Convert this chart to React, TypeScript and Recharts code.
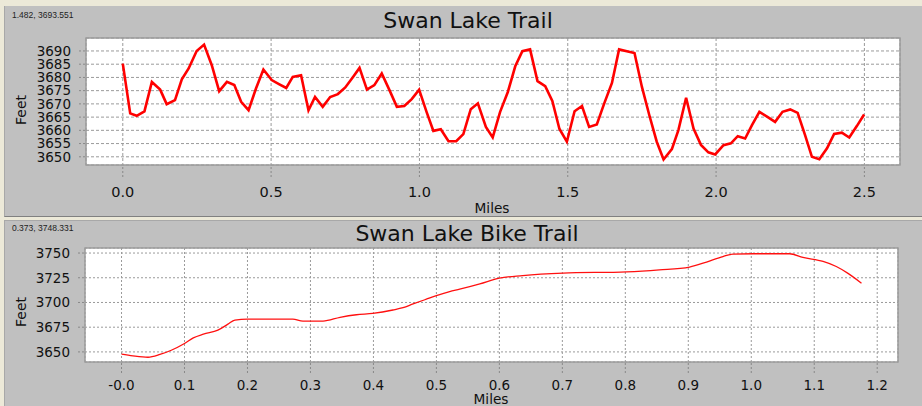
import { LineChart, Line, XAxis, YAxis, CartesianGrid, ReferenceArea } from 'recharts';

// Swan Lake Trail (top panel)
const trailMiles = [
    0, 0.025, 0.047, 0.073, 0.098, 0.126, 0.148, 0.176, 0.199, 0.222, 0.249, 0.274, 0.3, 0.325, 0.351, 0.376, 0.399,
    0.424, 0.449, 0.474, 0.502, 0.528, 0.551, 0.573, 0.601, 0.626, 0.648, 0.674, 0.699, 0.725, 0.75, 0.775, 0.798,
    0.823, 0.848, 0.873, 0.899, 0.924, 0.949, 0.974, 0.999, 1.024, 1.047, 1.072, 1.098, 1.124, 1.148, 1.173, 1.197,
    1.224, 1.247, 1.272, 1.298, 1.323, 1.347, 1.373, 1.398, 1.424, 1.448, 1.472, 1.497, 1.523, 1.548, 1.572, 1.598,
    1.623, 1.649, 1.673, 1.699, 1.725, 1.75, 1.775, 1.8, 1.823, 1.851, 1.873, 1.899, 1.924, 1.949, 1.974, 1.997,
    2.025, 2.05, 2.073, 2.098, 2.121, 2.146, 2.173, 2.199, 2.224, 2.25, 2.275, 2.3, 2.323, 2.348, 2.374, 2.398,
    2.424, 2.449, 2.475, 2.499,
];
const trailFeet = [
    3685.2, 3666.4, 3665.5, 3667.2, 3678.3, 3675.4, 3669.9, 3671.4, 3679.3, 3683.4, 3690, 3692.4, 3684.6, 3674.8,
    3678.3, 3677.1, 3670.8, 3667.6, 3675.8, 3683, 3679, 3677.4, 3676, 3680.2, 3680.8, 3667.6, 3672.6, 3668.9, 3672.6,
    3673.7, 3676.2, 3680, 3683.6, 3675.4, 3677.1, 3681.5, 3675.2, 3668.9, 3669.2, 3671.8, 3675.4, 3667, 3659.8,
    3660.4, 3655.9, 3655.9, 3658.6, 3668, 3670.2, 3661.3, 3657.3, 3667, 3674.5, 3684.2, 3689.9, 3690.6, 3678.6,
    3676.7, 3671.1, 3660.5, 3655.7, 3667.2, 3669.2, 3661.3, 3662.2, 3670.2, 3677.9, 3690.6, 3689.9, 3689.2, 3676.4,
    3665.7, 3655.7, 3649, 3652.9, 3660.1, 3672.3, 3660.7, 3654.5, 3651.7, 3650.9, 3654.4, 3655.1, 3657.8, 3656.9,
    3662, 3667, 3665.1, 3663.2, 3667, 3667.9, 3666.6, 3658.2, 3650, 3649.1, 3653.2, 3658.6, 3659.1, 3657.3, 3661.7,
    3666,
];
const trailXTicks = [0, 0.5, 1, 1.5, 2, 2.5];
const trailXMinor = [-0.1, 0.1, 0.2, 0.3, 0.4, 0.6, 0.7, 0.8, 0.9, 1.1, 1.2, 1.3, 1.4, 1.6, 1.7, 1.8, 1.9, 2.1, 2.2, 2.3, 2.4, 2.6];
const trailYTicks = [3650, 3655, 3660, 3665, 3670, 3675, 3680, 3685, 3690];

// Swan Lake Bike Trail (bottom panel)
const bikeMiles = [
    0, 0.018, 0.042, 0.061, 0.079, 0.1, 0.114, 0.13, 0.153, 0.169, 0.18, 0.2, 0.272, 0.288, 0.32, 0.347, 0.373,
    0.399, 0.431, 0.447, 0.463, 0.484, 0.5, 0.521, 0.537, 0.569, 0.6, 0.637, 0.701, 0.802, 0.854, 0.902, 0.929,
    0.955, 0.971, 1.003, 1.061, 1.082, 1.114, 1.135, 1.153, 1.175,
];
const bikeFeet = [
    3647.7, 3646, 3644.6, 3647.4, 3651.7, 3658.5, 3664.2, 3668, 3672, 3678.1, 3682.2, 3683.2, 3683.2, 3681.2, 3681.2,
    3685, 3687.6, 3689, 3692.4, 3694.7, 3698.5, 3703.3, 3706.9, 3711, 3713.4, 3718.8, 3724.6, 3727.2, 3729.7, 3731,
    3733, 3735.8, 3740.9, 3746.5, 3749, 3749.3, 3749.3, 3745.5, 3741.5, 3736.4, 3729.7, 3719.5,
];
const bikeXTicks = [0, 0.1, 0.2, 0.3, 0.4, 0.5, 0.6, 0.7, 0.8, 0.9, 1.0, 1.1, 1.2];
const bikeXLabels = ['-0.0', '0.1', '0.2', '0.3', '0.4', '0.5', '0.6', '0.7', '0.8', '0.9', '1.0', '1.1', '1.2'];
const bikeYTicks = [3650, 3675, 3700, 3725, 3750];

const trailDomainX: [number, number] = [-0.124, 2.62];
const trailDomainY: [number, number] = [3646.9, 3694.9];
const bikeDomainX: [number, number] = [-0.058, 1.233];
const bikeDomainY: [number, number] = [3639.8, 3755.1];

const range = (from: number, to: number, step: number) => {
    const out: number[] = [];
    for (let v = from; v <= to + 1e-9; v += step) out.push(Math.round(v * 1000) / 1000);
    return out;
};

const font = '"DejaVu Sans", Verdana, sans-serif';
const ink = '#111';
const gridGray = '#9a9a9a';

const trailData = trailMiles.map((m, i) => ({ miles: m, feet: trailFeet[i] }));
const bikeData = bikeMiles.map((m, i) => ({ miles: m, feet: bikeFeet[i] }));

const abs = (style: React.CSSProperties): React.CSSProperties => ({ position: 'absolute', ...style });

const App = () => {
    return (
        <div style={abs({ left: 0, top: 0, width: 922, height: 406, background: '#ece9d8', overflow: 'hidden', fontFamily: font })}>
            {/* panels */}
            <div style={abs({ left: 4, top: 6, width: 918, height: 210, background: '#c0c0c0', borderLeft: '1px solid #a8a8a8', borderBottom: '1px solid #808080' })} />
            <div style={abs({ left: 4, top: 220, width: 918, height: 186, background: '#c0c0c0', borderLeft: '1px solid #a8a8a8', borderTop: '1px solid #a8a8a8' })} />

            {/* top chart */}
            <div style={abs({ left: 0, top: 0 })}>
                <LineChart width={922} height={216} data={trailData} margin={{ top: 38, right: 22, bottom: 11, left: 26 }}>
                    <CartesianGrid stroke={gridGray} strokeDasharray='3 2' fill='#fff' />
                    <ReferenceArea x1={trailDomainX[0]} x2={trailDomainX[1]} y1={trailDomainY[0]} y2={trailDomainY[1]} fill='none' stroke='#9c9c9c' strokeWidth={1.5} fillOpacity={0} />
                    <XAxis
                        dataKey='miles'
                        type='number'
                        domain={trailDomainX}
                        allowDataOverflow
                        ticks={trailXTicks}
                        interval={0}
                        tickFormatter={(v: number) => v.toFixed(1)}
                        height={40}
                        tickSize={12}
                        tickMargin={10}
                        axisLine={false}
                        tickLine={{ stroke: '#888', strokeDasharray: '2 2' }}
                        tick={{ fill: ink, fontSize: 14.5, fontFamily: font }}
                    />
                    <XAxis
                        xAxisId='minor'
                        dataKey='miles'
                        type='number'
                        domain={trailDomainX}
                        allowDataOverflow
                        ticks={trailXMinor}
                        interval={0}
                        mirror
                        height={0}
                        tickSize={9}
                        tick={false}
                        axisLine={false}
                        tickLine={{ stroke: '#aaa', strokeDasharray: '2 2' }}
                    />
                    <YAxis
                        type='number'
                        domain={trailDomainY}
                        allowDataOverflow
                        ticks={trailYTicks}
                        interval={0}
                        width={60}
                        tickSize={7}
                        tickMargin={8}
                        axisLine={false}
                        tickLine={{ stroke: '#888', strokeDasharray: '2 2' }}
                        tick={{ fill: ink, fontSize: 13.5, fontFamily: font }}
                    />
                    <YAxis
                        yAxisId='minor'
                        type='number'
                        domain={trailDomainY}
                        allowDataOverflow
                        ticks={range(3647, 3694, 1)}
                        interval={0}
                        mirror
                        width={0}
                        tickSize={6}
                        tick={false}
                        axisLine={false}
                        tickLine={{ stroke: '#c4c4c4', strokeDasharray: '1 1' }}
                    />
                    <Line type='linear' dataKey='feet' stroke='#ff0000' strokeWidth={2.6} dot={false} isAnimationActive={false} />
                </LineChart>
            </div>

            {/* bottom chart */}
            <div style={abs({ left: 0, top: 220 })}>
                <LineChart width={922} height={186} data={bikeData} margin={{ top: 28, right: 24, bottom: 10, left: 25 }}>
                    <CartesianGrid stroke={gridGray} strokeDasharray='2 2' fill='#fff' />
                    <ReferenceArea x1={bikeDomainX[0]} x2={bikeDomainX[1]} y1={bikeDomainY[0]} y2={bikeDomainY[1]} fill='none' stroke='#9c9c9c' strokeWidth={1.5} fillOpacity={0} />
                    <XAxis
                        dataKey='miles'
                        type='number'
                        domain={bikeDomainX}
                        allowDataOverflow
                        ticks={bikeXTicks}
                        interval={0}
                        tickFormatter={(_v: number, i: number) => bikeXLabels[i]}
                        height={34}
                        tickSize={11}
                        tickMargin={7}
                        axisLine={false}
                        tickLine={{ stroke: '#888', strokeDasharray: '2 2' }}
                        tick={{ fill: ink, fontSize: 13.5, fontFamily: font }}
                    />
                    <XAxis
                        xAxisId='minor'
                        dataKey='miles'
                        type='number'
                        domain={bikeDomainX}
                        allowDataOverflow
                        ticks={range(-0.04, 1.22, 0.02)}
                        interval={0}
                        mirror
                        height={0}
                        tickSize={7}
                        tick={false}
                        axisLine={false}
                        tickLine={{ stroke: '#aaa', strokeDasharray: '2 2' }}
                    />
                    <YAxis
                        type='number'
                        domain={bikeDomainY}
                        allowDataOverflow
                        ticks={bikeYTicks}
                        interval={0}
                        width={60}
                        tickSize={7}
                        tickMargin={8}
                        axisLine={false}
                        tickLine={{ stroke: '#888', strokeDasharray: '2 2' }}
                        tick={{ fill: ink, fontSize: 13.5, fontFamily: font }}
                    />
                    <YAxis
                        yAxisId='minor'
                        type='number'
                        domain={bikeDomainY}
                        allowDataOverflow
                        ticks={range(3645, 3755, 5)}
                        interval={0}
                        mirror
                        width={0}
                        tickSize={6}
                        tick={false}
                        axisLine={false}
                        tickLine={{ stroke: '#bbb', strokeDasharray: '1 1' }}
                    />
                    <Line type='monotone' dataKey='feet' stroke='#ff1010' strokeWidth={1.3} dot={false} isAnimationActive={false} />
                </LineChart>
            </div>

            {/* texts */}
            <div style={abs({ left: 12, top: 10, fontSize: 8.5, fontFamily: '"Liberation Sans", Arial, sans-serif', color: '#222', whiteSpace: 'nowrap' })}>1.482, 3693.551</div>
            <div style={abs({ left: 0, width: 936, top: 7, textAlign: 'center', fontSize: 22, color: ink, lineHeight: '28px' })}>Swan Lake Trail</div>
            <div style={abs({ left: 21, top: 110, transform: 'translate(-50%, -50%) rotate(-90deg)', fontSize: 14, color: ink, whiteSpace: 'nowrap' })}>Feet</div>
            <div style={abs({ left: 492, top: 208, transform: 'translate(-50%, -50%)', fontSize: 13.7, color: ink, whiteSpace: 'nowrap' })}>Miles</div>

            <div style={abs({ left: 12, top: 223, fontSize: 8.5, fontFamily: '"Liberation Sans", Arial, sans-serif', color: '#222', whiteSpace: 'nowrap' })}>0.373, 3748.331</div>
            <div style={abs({ left: 0, width: 934, top: 220, textAlign: 'center', fontSize: 22, color: ink, lineHeight: '28px' })}>Swan Lake Bike Trail</div>
            <div style={abs({ left: 21, top: 312, transform: 'translate(-50%, -50%) rotate(-90deg)', fontSize: 14, color: ink, whiteSpace: 'nowrap' })}>Feet</div>
            <div style={abs({ left: 491, top: 399, transform: 'translate(-50%, -50%)', fontSize: 13.7, color: ink, whiteSpace: 'nowrap', lineHeight: '13px' })}>Miles</div>
        </div>
    );
};

export default App;
